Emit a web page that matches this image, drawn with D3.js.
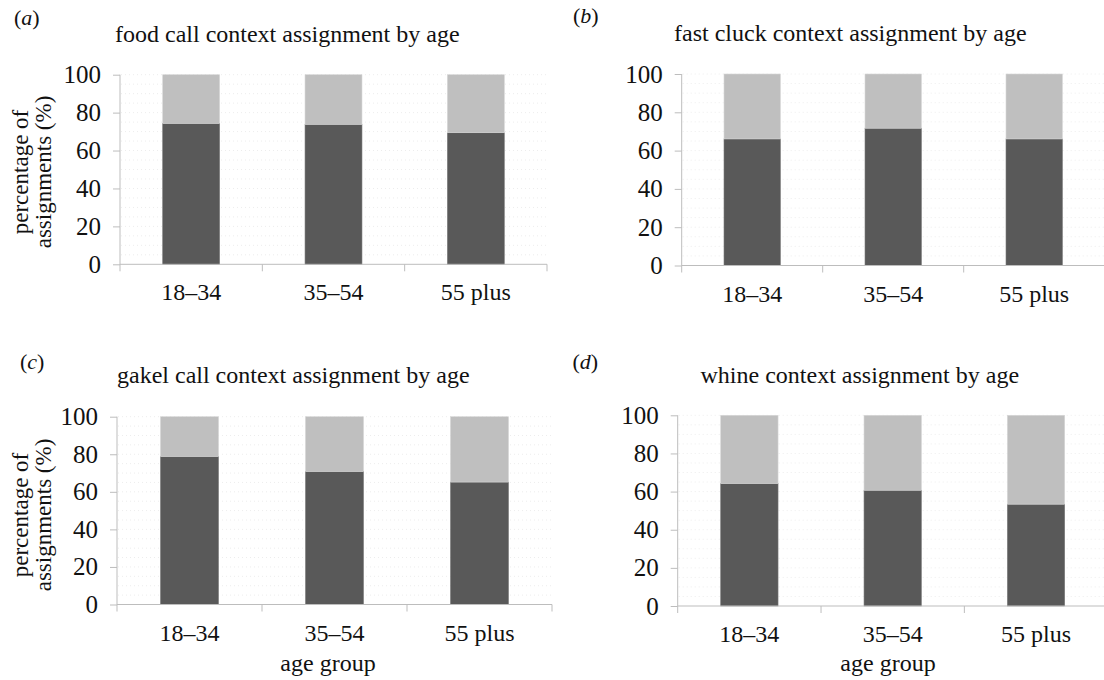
<!DOCTYPE html>
<html>
<head>
<meta charset="utf-8">
<script src="https://cdn.jsdelivr.net/npm/d3@7/dist/d3.min.js"></script>
<style>
  html, body { margin: 0; padding: 0; background: #fff; }
</style>
</head>
<body>
<svg id="chart" width="1104" height="680"></svg>
<script>
// Age groups shown on every panel
const ageGroups = ["18–34", "35–54", "55 plus"];
const yTicks = [0, 20, 40, 60, 80, 100];

// Panel titles
const titles = [
  "food call context assignment by age",
  "fast cluck context assignment by age",
  "gakel call context assignment by age",
  "whine context assignment by age"
];
const panelLetters = ["a", "b", "c", "d"];

// Percentage of assignments to the matching context (dark segment)
const foodCallMatched  = [74.3, 73.8, 69.4];
const fastCluckMatched = [66.1, 71.7, 66.1];
const gakelCallMatched = [78.8, 70.8, 65.2];
const whineMatched     = [64.2, 60.7, 53.4];

// Percentage of assignments to other contexts (light segment)
const foodCallOther  = [25.7, 26.2, 30.6];
const fastCluckOther = [33.9, 28.3, 33.9];
const gakelCallOther = [21.2, 29.2, 34.8];
const whineOther     = [35.8, 39.3, 46.6];

const matchedSeries = [foodCallMatched, fastCluckMatched, gakelCallMatched, whineMatched];
const otherSeries   = [foodCallOther, fastCluckOther, gakelCallOther, whineOther];

// Layout of the four panels
const layout = [
  { x0: 120,   x1: 547,    yTop: 74.7,  yBot: 264.3, titleX: 115,   titleY: 42,  letterX: 14,    letterY: 25,  yLabel: true,  yLabelCy: 172, xLabel: false },
  { x0: 681.7, x1: 1104.7, yTop: 74,    yBot: 265.5, titleX: 674,   titleY: 41,  letterX: 573,   letterY: 23,  yLabel: false, xLabel: false },
  { x0: 117,   x1: 552,    yTop: 416.7, yBot: 604.5, titleX: 117,   titleY: 383, letterX: 20,    letterY: 369, yLabel: true,  yLabelCy: 515, xLabel: true, xLabelX: 328 },
  { x0: 677.7, x1: 1107.7, yTop: 415.3, yBot: 606,   titleX: 700.5, titleY: 383, letterX: 572.4, letterY: 369, yLabel: false, xLabel: true, xLabelX: 888 }
];

const axisColor = "#bdbdbd";
const darkColor = "#595959";
const lightColor = "#bfbfbf";
const tickLen = 7;

const svg = d3.select("#chart");

function serifText(sel, size) {
  return sel
    .style("font-family", "'Liberation Serif', serif")
    .style("font-size", size + "px")
    .attr("fill", "#111");
}

layout.forEach((L, i) => {
  const g = svg.append("g");

  const x = d3.scaleBand().domain(ageGroups).range([L.x0, L.x1])
    .paddingInner(0.6).paddingOuter(0.3);
  const xCat = d3.scaleBand().domain(ageGroups).range([L.x0, L.x1]).padding(0);
  const y = d3.scaleLinear().domain([0, 100]).range([L.yBot, L.yTop]);

  // faint dotted gridlines
  g.append("g").selectAll("line")
    .data(d3.range(5, 101, 5))
    .join("line")
    .attr("x1", L.x0 + 1).attr("x2", L.x1)
    .attr("y1", d => y(d)).attr("y2", d => y(d))
    .attr("stroke", "#ededed")
    .attr("stroke-width", 1)
    .attr("stroke-dasharray", "1,3");

  // stacked bars
  const matched = matchedSeries[i];
  const other = otherSeries[i];
  g.append("g").selectAll("rect")
    .data(ageGroups)
    .join("rect")
    .attr("x", d => x(d))
    .attr("width", x.bandwidth())
    .attr("y", (d, k) => y(matched[k]))
    .attr("height", (d, k) => y(0) - y(matched[k]))
    .attr("fill", darkColor)
    .attr("stroke", "#7a7a7a").attr("stroke-width", 0.6);

  g.append("g").selectAll("rect")
    .data(ageGroups)
    .join("rect")
    .attr("x", d => x(d))
    .attr("width", x.bandwidth())
    .attr("y", (d, k) => y(matched[k] + other[k]))
    .attr("height", (d, k) => y(matched[k]) - y(matched[k] + other[k]))
    .attr("fill", lightColor)
    .attr("stroke", "#d6d6d6").attr("stroke-width", 0.6);

  // y axis
  const yAxis = g.append("g")
    .attr("transform", `translate(${L.x0},0)`)
    .call(d3.axisLeft(y).tickValues(yTicks).tickSize(tickLen).tickSizeOuter(0).tickPadding(12));
  yAxis.attr("font-family", null).attr("font-size", null);
  yAxis.select(".domain").remove();
  yAxis.selectAll(".tick line").attr("stroke", axisColor);
  serifText(yAxis.selectAll(".tick text"), 25);
  g.append("line")
    .attr("x1", L.x0).attr("x2", L.x0)
    .attr("y1", L.yTop).attr("y2", L.yBot + tickLen)
    .attr("stroke", axisColor).attr("stroke-width", 1);

  // x axis with ticks on category boundaries
  g.append("line")
    .attr("x1", L.x0).attr("x2", L.x1)
    .attr("y1", L.yBot).attr("y2", L.yBot)
    .attr("stroke", axisColor).attr("stroke-width", 1);
  const bounds = ageGroups.map(d => xCat(d)).concat([L.x1]);
  g.append("g").selectAll("line")
    .data(bounds.slice(1))
    .join("line")
    .attr("x1", d => d).attr("x2", d => d)
    .attr("y1", L.yBot).attr("y2", L.yBot + tickLen)
    .attr("stroke", axisColor).attr("stroke-width", 1);

  serifText(g.append("g").selectAll("text")
    .data(ageGroups)
    .join("text")
    .attr("x", d => xCat(d) + xCat.bandwidth() / 2)
    .attr("y", L.yBot + 36)
    .attr("text-anchor", "middle"), 24)
    .text(d => d);

  // panel title
  serifText(g.append("text")
    .attr("x", L.titleX).attr("y", L.titleY), 24)
    .text(titles[i]);

  // panel letter
  const letter = serifText(g.append("text")
    .attr("x", L.letterX).attr("y", L.letterY), 22);
  letter.append("tspan").text("(");
  letter.append("tspan").style("font-style", "italic").text(panelLetters[i]);
  letter.append("tspan").text(")");

  // y axis title
  if (L.yLabel) {
    const t = serifText(g.append("text")
      .attr("transform", `translate(0,${L.yLabelCy}) rotate(-90)`)
      .attr("text-anchor", "middle"), 23);
    t.append("tspan").attr("x", 0).attr("y", 28).text("percentage of");
    t.append("tspan").attr("x", 0).attr("y", 51).text("assignments (%)");
  }

  // x axis title
  if (L.xLabel) {
    serifText(g.append("text")
      .attr("x", L.xLabelX).attr("y", 671)
      .attr("text-anchor", "middle"), 24)
      .text("age group");
  }
});
</script>
</body>
</html>
